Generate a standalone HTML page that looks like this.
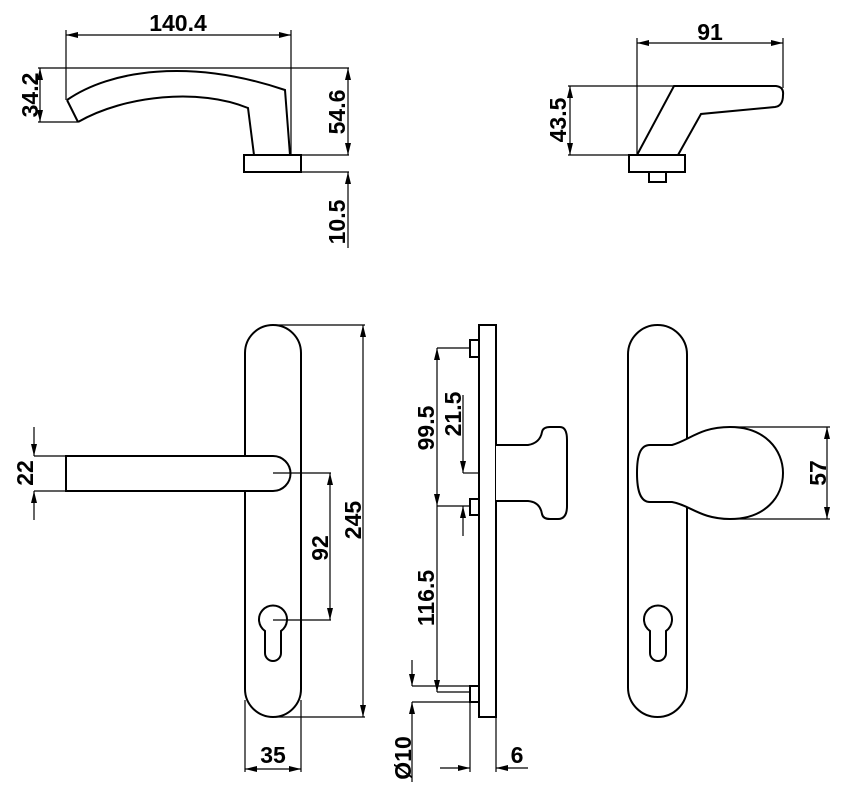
<!DOCTYPE html>
<html><head><meta charset="utf-8"><style>
html,body{margin:0;padding:0;background:#fff}
svg{display:block}
text{font-family:"Liberation Sans",sans-serif;font-size:23px;font-weight:bold;fill:#000}
</style></head><body>
<svg width="842" height="800" viewBox="0 0 842 800" xmlns="http://www.w3.org/2000/svg">
<defs>
<marker id="a" viewBox="0 0 12 6" refX="12" refY="3" markerWidth="12" markerHeight="6" markerUnits="userSpaceOnUse" orient="auto-start-reverse">
<path d="M0,0 L12,3 L0,6 Z" fill="#000"/></marker>
</defs>
<g fill="none" stroke="#000" stroke-width="1.2">
<!-- TOP LEFT -->
<line x1="66" y1="35" x2="291" y2="35" marker-start="url(#a)" marker-end="url(#a)"/>
<line x1="66" y1="30" x2="66" y2="100"/>
<line x1="291" y1="30" x2="291" y2="155"/>
<line x1="38" y1="68" x2="349" y2="68"/>
<line x1="38" y1="122" x2="78" y2="122"/>
<line x1="40" y1="68" x2="40" y2="122" marker-start="url(#a)" marker-end="url(#a)"/>
<path d="M67,100 C110,70 190,58 285,90 L290,155 M78,122 C125,95 200,88 248,108 L254,155 M67,100 L78,122" stroke-width="2"/>
<rect x="244" y="155" width="57" height="17" stroke-width="2"/>
<line x1="301" y1="155" x2="349" y2="155"/>
<line x1="301" y1="172" x2="349" y2="172"/>
<line x1="348" y1="68" x2="348" y2="155" marker-start="url(#a)" marker-end="url(#a)"/>
<line x1="348" y1="172" x2="348" y2="248" marker-start="url(#a)"/>
<!-- TOP RIGHT -->
<line x1="637" y1="43" x2="783" y2="43" marker-start="url(#a)" marker-end="url(#a)"/>
<line x1="637" y1="38" x2="637" y2="155"/>
<line x1="783" y1="38" x2="783" y2="88"/>
<line x1="568" y1="86" x2="676" y2="86"/>
<line x1="568" y1="155" x2="637" y2="155"/>
<line x1="570" y1="86" x2="570" y2="155" marker-start="url(#a)" marker-end="url(#a)"/>
<path d="M637,155 L674,86 L776,86 Q784,87 783,95 Q783,106 775,107 L701,114 L678,155" stroke-width="2"/>
<rect x="629" y="155" width="56" height="17" stroke-width="2"/>
<rect x="649" y="172" width="17" height="10" stroke-width="2"/>
<!-- BOTTOM LEFT -->
<rect x="245" y="325" width="56" height="392" rx="28" ry="28" stroke-width="2"/>
<path d="M66,456 L273,456 A17.5,17.5 0 0 1 273,491 L66,491 Z" fill="#fff" stroke-width="2"/>
<line x1="34" y1="456" x2="66" y2="456"/>
<line x1="34" y1="491" x2="66" y2="491"/>
<line x1="34" y1="427" x2="34" y2="456" marker-end="url(#a)"/>
<line x1="34" y1="520" x2="34" y2="491" marker-end="url(#a)"/>
<line x1="273" y1="473" x2="331" y2="473"/>
<line x1="273" y1="620" x2="331" y2="620"/>
<line x1="330" y1="473" x2="330" y2="620" marker-start="url(#a)" marker-end="url(#a)"/>
<path d="M265,631 A14,14 0 1 1 281,631 L281,653 A8,8 0 0 1 265,653 Z" stroke-width="2"/>
<line x1="275" y1="325" x2="365" y2="325"/>
<line x1="275" y1="717" x2="365" y2="717"/>
<line x1="363" y1="325" x2="363" y2="717" marker-start="url(#a)" marker-end="url(#a)"/>
<line x1="245" y1="700" x2="245" y2="772"/>
<line x1="301" y1="700" x2="301" y2="772"/>
<line x1="245" y1="769" x2="301" y2="769" marker-start="url(#a)" marker-end="url(#a)"/>
<!-- MIDDLE -->
<rect x="479" y="325" width="17" height="392" stroke-width="2"/>
<rect x="470" y="340" width="9" height="17" stroke-width="2"/>
<rect x="470" y="499" width="9" height="16" stroke-width="2"/>
<rect x="470" y="686" width="9" height="16" stroke-width="2"/>
<path d="M496,445 L528,445 Q540,443 542,432 Q543,427 550,427 L560,427 Q567,427 567,440 L567,506 Q567,519 558,519 L550,519 Q543,519 542,514 Q540,502 528,501 L496,501" fill="#fff" stroke-width="2"/>
<line x1="437" y1="348" x2="470" y2="348"/>
<line x1="437" y1="506" x2="470" y2="506"/>
<line x1="437" y1="348" x2="437" y2="506" marker-start="url(#a)" marker-end="url(#a)"/>
<line x1="437" y1="506" x2="437" y2="692" marker-end="url(#a)"/>
<line x1="437" y1="692" x2="470" y2="692"/>
<line x1="463" y1="473" x2="479" y2="473"/>
<line x1="463" y1="395" x2="463" y2="473" marker-end="url(#a)"/>
<line x1="463" y1="536" x2="463" y2="506" marker-end="url(#a)"/>
<line x1="412" y1="686" x2="470" y2="686"/>
<line x1="412" y1="702" x2="470" y2="702"/>
<line x1="412" y1="660" x2="412" y2="686" marker-end="url(#a)"/>
<line x1="412" y1="782" x2="412" y2="702" marker-end="url(#a)"/>
<line x1="470" y1="702" x2="470" y2="772"/>
<line x1="496" y1="717" x2="496" y2="772"/>
<line x1="440" y1="768" x2="470" y2="768" marker-end="url(#a)"/>
<line x1="528" y1="768" x2="496" y2="768" marker-end="url(#a)"/>
<!-- RIGHT -->
<rect x="628" y="325" width="59" height="392" rx="29.5" ry="29.5" stroke-width="2"/>
<path d="M650,445 L672,445 C690,440 700,427 730,427 C765,427 783,450 783,473 C783,497 765,519 730,519 C700,519 690,505 672,502 L650,502 C640,502 637,490 637,473 C637,456 640,445 650,445 Z" fill="#fff" stroke-width="2"/>
<line x1="730" y1="427" x2="830" y2="427"/>
<line x1="730" y1="519" x2="830" y2="519"/>
<line x1="827" y1="427" x2="827" y2="519" marker-start="url(#a)" marker-end="url(#a)"/>
<path d="M650,631 A14,14 0 1 1 666,631 L666,653 A8,8 0 0 1 650,653 Z" stroke-width="2"/>
</g>
<g text-anchor="middle">
<text x="178" y="31">140.4</text>
<text x="710" y="40">91</text>
<text transform="translate(38,95) rotate(-90)">34.2</text>
<text transform="translate(345,112) rotate(-90)">54.6</text>
<text transform="translate(345,222) rotate(-90)">10.5</text>
<text transform="translate(566,120) rotate(-90)">43.5</text>
<text transform="translate(33,473) rotate(-90)">22</text>
<text transform="translate(328,548) rotate(-90)">92</text>
<text transform="translate(361,520) rotate(-90)">245</text>
<text x="273" y="763">35</text>
<text transform="translate(434,428) rotate(-90)">99.5</text>
<text transform="translate(461,414) rotate(-90)">21.5</text>
<text transform="translate(434,598) rotate(-90)">116.5</text>
<text transform="translate(411,758) rotate(-90)">Ø10</text>
<text x="517" y="763">6</text>
<text transform="translate(826,473) rotate(-90)">57</text>
</g>
</svg>
</body></html>
